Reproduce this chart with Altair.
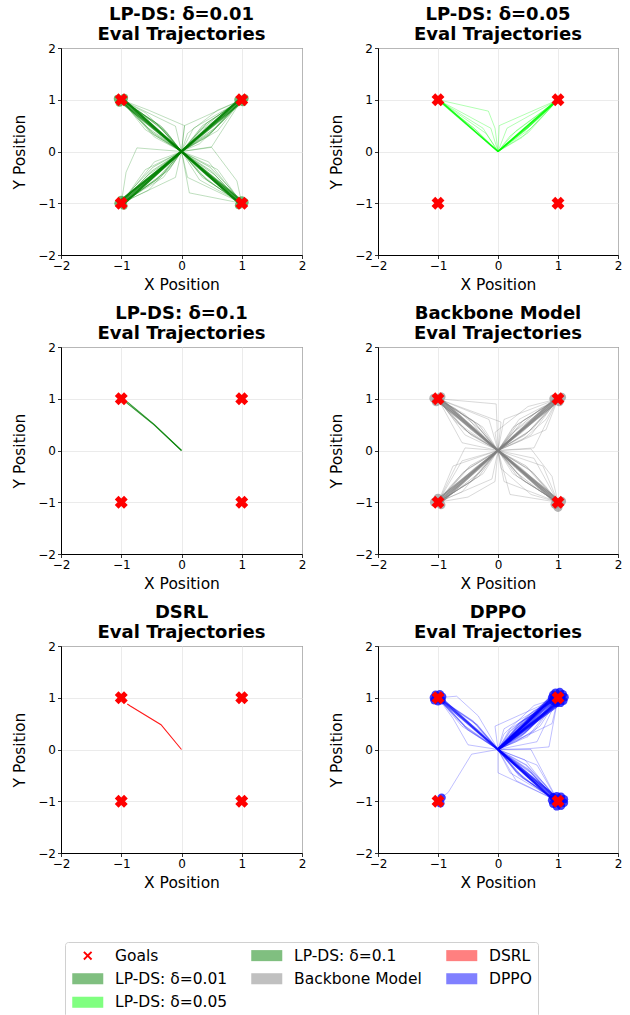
import altair as alt
import pandas as pd

# ---------------- data ----------------
AXIS_TICKS = [-2, -1, 0, 1, 2]
GOALS_X = [-1, 1, -1, 1]
GOALS_Y = [1, 1, -1, -1]

TITLES = [
    ["LP-DS: δ=0.01", "Eval Trajectories"],
    ["LP-DS: δ=0.05", "Eval Trajectories"],
    ["LP-DS: δ=0.1", "Eval Trajectories"],
    ["Backbone Model", "Eval Trajectories"],
    ["DSRL", "Eval Trajectories"],
    ["DPPO", "Eval Trajectories"],
]

# ---- LP-DS delta=0.01 : dense paths to all four goals
LPDS001_MAIN = [
    [[0, 0], [-1, 1]], [[0, 0], [-0.97, 1.02]], [[0, 0], [-1.02, 0.97]], [[0, 0], [-0.95, 0.99]],
    [[0, 0], [1, 1]], [[0, 0], [0.97, 1.02]], [[0, 0], [1.02, 0.97]], [[0, 0], [0.95, 0.99]],
    [[0, 0], [-1, -1]], [[0, 0], [-0.97, -1.03]], [[0, 0], [-1.03, -0.97]], [[0, 0], [-0.95, -1.0]],
    [[0, 0], [-1.0, -0.94]],
    [[0, 0], [1, -1]], [[0, 0], [0.97, -1.02]], [[0, 0], [1.02, -0.97]], [[0, 0], [0.95, -0.99]],
]
LPDS001_FAN = [
    [[0, 0], [-0.42, 0.55], [-1, 1]], [[0, 0], [-0.55, 0.45], [-1, 1]], [[0, 0], [-0.35, 0.5], [-1, 1]],
    [[0, 0], [-0.5, 0.38], [-1, 1]], [[0, 0], [-0.3, 0.4], [-0.7, 0.78], [-1, 1]],
    [[0, 0], [-0.45, 0.32], [-0.8, 0.72], [-1, 1]],
    [[0, 0], [0.42, 0.55], [1, 1]], [[0, 0], [0.55, 0.45], [1, 1]], [[0, 0], [0.35, 0.5], [1, 1]],
    [[0, 0], [0.5, 0.38], [1, 1]], [[0, 0], [0.3, 0.4], [0.7, 0.78], [1, 1]],
    [[0, 0], [0.45, 0.32], [0.8, 0.72], [1, 1]],
    [[0, 0], [-0.42, -0.55], [-1, -1]], [[0, 0], [-0.55, -0.45], [-1, -1]], [[0, 0], [-0.35, -0.5], [-1, -1]],
    [[0, 0], [-0.5, -0.38], [-1, -1]], [[0, 0], [-0.3, -0.42], [-0.72, -0.8], [-1, -1]],
    [[0, 0], [-0.47, -0.3], [-0.8, -0.7], [-1, -1]],
    [[0, 0], [0.42, -0.55], [1, -1]], [[0, 0], [0.55, -0.45], [1, -1]], [[0, 0], [0.35, -0.5], [1, -1]],
    [[0, 0], [0.5, -0.38], [1, -1]], [[0, 0], [0.3, -0.42], [0.72, -0.8], [1, -1]],
    [[0, 0], [0.47, -0.3], [0.8, -0.7], [1, -1]],
]
LPDS001_STRAY = [
    [[0, 0], [-0.1, 0.49], [-1, 1]], [[0, 0], [0.05, 0.5], [-0.55, 0.8], [-1, 1]], [[0, 0], [-0.3, 0.45], [-1, 1]],
    [[0, 0], [-0.45, 0.28], [-1, 1]], [[0, 0], [-0.2, 0.3], [-0.6, 0.75], [-1, 1]], [[0, 0], [-0.38, 0.5], [-1, 1]],
    [[0, 0], [-0.6, 0.42], [-1, 1]], [[0, 0], [-0.25, 0.38], [-1, 1]],
    [[0, 0], [0.5, 0.09], [1, 1]], [[0, 0], [0.05, 0.5], [1, 1]], [[0, 0], [0.3, 0.15], [0.7, 0.6], [1, 1]],
    [[0, 0], [0.2, 0.45], [1, 1]], [[0, 0], [0.45, 0.3], [1, 1]], [[0, 0], [0.1, 0.35], [0.6, 0.8], [1, 1]],
    [[0, 0], [0.35, 0.42], [1, 1]], [[0, 0], [0.6, 0.4], [1, 1]],
    [[0, 0], [-0.74, 0.07], [-0.92, -0.4], [-1, -1]], [[0, 0], [-0.1, -0.5], [-1, -1]], [[0, 0], [-0.45, -0.2], [-1, -1]],
    [[0, 0], [-0.3, -0.5], [-1, -1]], [[0, 0], [-0.6, -0.35], [-1, -1]], [[0, 0], [-0.2, -0.35], [-1, -1]],
    [[0, 0], [-0.4, -0.38], [-1, -1]], [[0, 0], [-0.15, -0.25], [-0.55, -0.75], [-1, -1]],
    [[0, 0], [0.13, -0.8], [1, -1]], [[0, 0], [0.5, 0.08], [0.92, -0.57], [1, -1]], [[0, 0], [0.1, -0.5], [1, -1]],
    [[0, 0], [0.45, -0.2], [1, -1]], [[0, 0], [0.3, -0.55], [1, -1]], [[0, 0], [0.6, -0.35], [1, -1]],
    [[0, 0], [0.25, -0.3], [1, -1]], [[0, 0], [0.4, -0.45], [1, -1]],
]
LPDS001_ENDS = [
    [-1.06, 1.02], [-0.95, 1.04], [-1.03, 0.94], [0.94, 1.0], [1.05, 1.03], [1.02, 0.95],
    [-1.05, -1.0], [-0.96, -1.05], [-1.0, -0.93], [0.95, -1.04], [1.05, -0.98], [1.0, -0.94],
]

# ---- LP-DS delta=0.05 : only the two upper goals
LPDS005_MAIN = [
    [[0, 0], [-1, 1]], [[0, 0], [-0.98, 1.0]],
    [[0, 0], [1, 1]], [[0, 0], [0.98, 1.0]], [[0, 0], [0.5, 0.47], [1, 1]],
]
LPDS005_STRAY = [
    [[0, 0], [-0.05, 0.45], [-0.16, 0.78], [-1, 1]], [[0, 0], [-0.12, 0.45], [-1, 1]], [[0, 0], [-0.25, 0.45], [-1, 1]],
    [[0, 0], [-0.35, 0.4], [-1, 1]], [[0, 0], [-0.2, 0.35], [-1, 1]], [[0, 0], [-0.42, 0.47], [-1, 1]],
    [[0, 0], [0.02, 0.5], [1, 1]], [[0, 0], [0.5, 0.36], [1, 1]], [[0, 0], [0.3, 0.4], [1, 1]],
    [[0, 0], [0.15, 0.45], [1, 1]], [[0, 0], [0.4, 0.27], [1, 1]], [[0, 0], [0.55, 0.45], [1, 1]],
    [[0, 0], [0.2, 0.3], [1, 1]], [[0, 0], [0.45, 0.4], [1, 1]],
]

# ---- LP-DS delta=0.1 : one path to the upper-left goal
LPDS01_MAIN = [
    [[0, 0], [-0.45, 0.5], [-0.9, 0.94]], [[0, 0], [-0.46, 0.5], [-0.92, 0.93]],
]

# ---- Backbone model : spread paths to all four goals
BACKBONE_MAIN = [
    [[0, 0], [-1, 1]], [[0, 0], [-0.97, 1.02]], [[0, 0], [-1.02, 0.97]],
    [[0, 0], [1, 1]], [[0, 0], [0.97, 1.02]], [[0, 0], [1.02, 0.97]],
    [[0, 0], [-1, -1]], [[0, 0], [-0.97, -1.03]], [[0, 0], [-1.03, -0.97]],
    [[0, 0], [1, -1]], [[0, 0], [0.97, -1.02]], [[0, 0], [1.02, -0.97]],
]
BACKBONE_FAN = [
    [[0, 0], [-0.42, 0.58], [-1, 1]], [[0, 0], [-0.58, 0.42], [-1, 1]], [[0, 0], [-0.32, 0.5], [-1, 1]],
    [[0, 0], [-0.5, 0.35], [-1, 1]], [[0, 0], [-0.3, 0.4], [-0.7, 0.8], [-1, 1]],
    [[0, 0], [-0.45, 0.3], [-0.8, 0.7], [-1, 1]],
    [[0, 0], [0.42, 0.58], [1, 1]], [[0, 0], [0.58, 0.42], [1, 1]], [[0, 0], [0.32, 0.5], [1, 1]],
    [[0, 0], [0.5, 0.35], [1, 1]], [[0, 0], [0.3, 0.4], [0.7, 0.8], [1, 1]],
    [[0, 0], [0.45, 0.3], [0.8, 0.7], [1, 1]],
    [[0, 0], [-0.42, -0.58], [-1, -1]], [[0, 0], [-0.58, -0.42], [-1, -1]], [[0, 0], [-0.32, -0.5], [-1, -1]],
    [[0, 0], [-0.5, -0.35], [-1, -1]], [[0, 0], [-0.3, -0.42], [-0.72, -0.8], [-1, -1]],
    [[0, 0], [-0.47, -0.3], [-0.8, -0.7], [-1, -1]],
    [[0, 0], [0.42, -0.58], [1, -1]], [[0, 0], [0.58, -0.42], [1, -1]], [[0, 0], [0.32, -0.5], [1, -1]],
    [[0, 0], [0.5, -0.35], [1, -1]], [[0, 0], [0.3, -0.42], [0.72, -0.8], [1, -1]],
    [[0, 0], [0.47, -0.3], [0.8, -0.7], [1, -1]],
]
BACKBONE_STRAY = [
    [[0, 0], [-0.15, 0.6], [-1, 1]], [[0, 0], [-0.3, 0.35], [-1, 1]], [[0, 0], [-0.55, 0.3], [-1, 1]],
    [[0, 0], [-0.4, 0.55], [-1, 1]], [[0, 0], [-0.7, 0.55], [-1, 1]], [[0, 0], [-0.2, 0.2], [-0.55, 0.7], [-1, 1]],
    [[0, 0], [-0.03, 0.9], [-1, 1]], [[0, 0], [-0.25, 0.45], [-1, 1]], [[0, 0], [-0.45, 0.4], [-1, 1]],
    [[0, 0], [-0.6, 0.15], [-1, 1]], [[0, 0], [0.05, 0.55], [-1, 1]],
    [[0, 0], [0.1, 0.6], [1, 1]], [[0, 0], [0.25, 0.45], [1, 1]], [[0, 0], [0.55, 0.3], [1, 1]],
    [[0, 0], [0.6, 0.05], [1, 1]], [[0, 0], [0.4, 0.2], [0.8, 0.6], [1, 1]], [[0, 0], [0.35, 0.6], [1, 1]],
    [[0, 0], [0.8, 0.4], [1, 1]], [[0, 0], [0.4, 0.35], [1, 1]], [[0, 0], [0.2, 0.3], [1, 1]],
    [[0, 0], [-0.05, 0.35], [0.5, 0.85], [1, 1]],
    [[0, 0], [-0.1, -0.55], [-1, -1]], [[0, 0], [-0.3, -0.35], [-1, -1]], [[0, 0], [-0.6, -0.2], [-1, -1]],
    [[0, 0], [-0.45, -0.6], [-1, -1]], [[0, 0], [-0.75, -0.3], [-1, -1]], [[0, 0], [-0.2, -0.25], [-0.6, -0.8], [-1, -1]],
    [[0, 0], [-0.55, 0.05], [-1, -1]], [[0, 0], [-0.4, -0.35], [-1, -1]], [[0, 0], [-0.25, -0.45], [-1, -1]],
    [[0, 0], [-0.05, -0.6], [-0.5, -0.9], [-1, -1]],
    [[0, 0], [0.1, -0.6], [1, -1]], [[0, 0], [0.3, -0.35], [1, -1]], [[0, 0], [0.6, -0.15], [1, -1]],
    [[0, 0], [0.45, -0.6], [1, -1]], [[0, 0], [0.75, -0.3], [1, -1]], [[0, 0], [0.2, -0.85], [1, -1]],
    [[0, 0], [0.55, 0.03], [0.9, -0.5], [1, -1]], [[0, 0], [0.4, -0.35], [1, -1]], [[0, 0], [0.25, -0.45], [1, -1]],
    [[0, 0], [0.05, -0.35], [0.55, -0.85], [1, -1]],
]
BACKBONE_ENDS = [
    [-1.07, 1.01], [-0.95, 1.04], [-1.03, 0.94], [0.93, 1.0], [1.06, 1.03], [1.02, 0.94],
    [-1.06, -1.0], [-0.95, -1.05], [-1.0, -0.92], [0.95, -1.04], [1.06, -0.98], [1.0, -1.1],
]

# ---- DSRL : one path to the upper-left goal
DSRL_MAIN = [
    [[0, 0], [-0.34, 0.48], [-0.85, 0.84], [-0.9, 0.88]],
]

# ---- DPPO : mostly right-hand goals
DPPO_MAIN = [
    [[0, 0], [1, 1]], [[0, 0], [0.96, 1.04]], [[0, 0], [1.04, 0.96]], [[0, 0], [0.93, 1.03]],
    [[0, 0], [1.04, 0.92]], [[0, 0], [0.5, 0.53], [0.95, 1.06]], [[0, 0], [0.53, 0.48], [1.07, 0.97]],
    [[0, 0], [0.46, 0.5], [0.98, 1.02]], [[0, 0], [0.9, 1.04]], [[0, 0], [1.06, 0.9]],
    [[0, 0], [1, -1]], [[0, 0], [0.97, -1.03]], [[0, 0], [1.03, -0.97]], [[0, 0], [0.95, -1.0]],
    [[0, 0], [-1, 1]], [[0, 0], [-0.97, 1.02]],
]
DPPO_FAN = [
    [[0, 0], [0.42, 0.55], [1, 1]], [[0, 0], [0.55, 0.45], [1, 1]], [[0, 0], [0.35, 0.5], [1, 1]],
    [[0, 0], [0.5, 0.38], [1, 1]], [[0, 0], [0.3, 0.4], [0.7, 0.78], [1, 1]],
    [[0, 0], [0.45, 0.32], [0.8, 0.72], [1, 1]], [[0, 0], [0.2, 0.35], [0.6, 0.75], [1, 1]],
    [[0, 0], [0.38, 0.25], [0.75, 0.65], [1, 1]],
    [[0, 0], [0.42, -0.55], [1, -1]], [[0, 0], [0.55, -0.45], [1, -1]], [[0, 0], [0.35, -0.5], [1, -1]],
    [[0, 0], [0.5, -0.38], [1, -1]], [[0, 0], [0.3, -0.42], [0.72, -0.8], [1, -1]],
    [[0, 0], [0.47, -0.3], [0.8, -0.7], [1, -1]],
    [[0, 0], [-0.42, 0.55], [-1, 1]], [[0, 0], [-0.55, 0.45], [-1, 1]], [[0, 0], [-0.35, 0.48], [-1, 1]],
    [[0, 0], [-0.5, 0.38], [-1, 1]],
]
DPPO_STRAY = [
    [[0, 0], [0.55, 0.02], [0.85, 0.05], [1, 1]], [[0, 0], [-0.05, 0.45], [1, 1]], [[0, 0], [0.2, 0.4], [1, 1]],
    [[0, 0], [0.5, 0.25], [1, 1]], [[0, 0], [0.9, 0.5], [1, 1]], [[0, 0], [0.3, 0.15], [0.7, 0.45], [1, 1]],
    [[0, 0], [0.1, 0.3], [0.6, 0.85], [1, 1]], [[0, 0], [0.65, 0.15], [1, 1]], [[0, 0], [0.1, 0.4], [1, 1]],
    [[0, 0], [0.6, 0.35], [1, 1]],
    [[0, 0], [0.55, 0.0], [1, -1]], [[0, 0], [0.0, -0.45], [1, -1]], [[0, 0], [0.2, -0.45], [1, -1]],
    [[0, 0], [0.45, -0.2], [1, -1]], [[0, 0], [0.3, -0.6], [1, -1]], [[0, 0], [0.65, -0.3], [1, -1]],
    [[0, 0], [0.35, -0.3], [1, -1]],
    [[0, 0], [-0.5, 0.09], [-0.75, 0.6], [-1, 1]], [[0, 0], [-0.33, 0.65], [-0.69, 1.03], [-1, 1]],
    [[0, 0], [-0.3, 0.35], [-1, 1]], [[0, 0], [-0.6, 0.45], [-1, 1]],
    [[0, 0], [-0.44, -0.09], [-0.83, -0.83], [-0.97, -0.95]],
]
DPPO_ENDS = [
    [0.9, 1.0], [0.92, 1.06], [0.96, 1.1], [1.03, 1.11], [1.08, 1.07], [1.11, 1.01], [1.09, 0.94],
    [1.04, 0.9], [0.97, 0.9], [0.92, 0.94], [1.0, 1.0], [1.05, 1.0], [0.96, 1.03], [1.02, 0.96],
    [0.9, -0.98], [0.92, -0.92], [0.98, -0.9], [1.05, -0.91], [1.1, -0.96], [1.1, -1.03], [1.05, -1.09],
    [0.98, -1.1], [0.92, -1.05], [1.0, -1.0], [1.04, -0.98], [0.97, -1.03],
    [-1.07, 1.0], [-1.04, 1.06], [-0.97, 1.07], [-0.93, 1.02], [-0.94, 0.95], [-1.0, 0.93], [-1.06, 0.95],
    [-1.0, 1.0],
    [-0.94, -0.93], [-0.96, -1.04],
]

# ---- legend (row-major order reproducing matplotlib's 3-column layout)
LEGEND_LABELS = ["Goals", "LP-DS: δ=0.1", "DSRL", "LP-DS: δ=0.01", "Backbone Model", "DPPO", "LP-DS: δ=0.05"]
LEGEND_COLORS = ["#ff0000", "#80bf80", "#ff8080", "#80bf80", "#c0c0c0", "#8080ff", "#80ff80"]
RECT_PATH = "M-1,-0.92L4.17,-0.92L4.17,0.92L-1,0.92Z"
X_PATH = ("M-1,0M4.17,0M1.58,0.22L2.11,0.75L2.33,0.53L1.8,0L2.33,-0.53L2.11,-0.75L1.58,-0.22"
          "L1.05,-0.75L0.83,-0.53L1.36,0L0.83,0.53L1.05,0.75Z")
LEGEND_SHAPES = [X_PATH, RECT_PATH, RECT_PATH, RECT_PATH, RECT_PATH, RECT_PATH, RECT_PATH]


# ---------------- helpers ----------------
def traj_df(trajs):
    rows = []
    for i, t in enumerate(trajs):
        for j, (x, y) in enumerate(t):
            rows.append({"traj": i, "step": j, "x": x, "y": y})
    return pd.DataFrame(rows)


def pts_df(pts):
    return pd.DataFrame({"x": [p[0] for p in pts], "y": [p[1] for p in pts]})


X_ENC = alt.X("x:Q", scale=alt.Scale(domain=[-2, 2], nice=False, zero=False),
              axis=alt.Axis(values=AXIS_TICKS, title="X Position"))
Y_ENC = alt.Y("y:Q", scale=alt.Scale(domain=[-2, 2], nice=False, zero=False),
              axis=alt.Axis(values=AXIS_TICKS, title="Y Position"))


def lines(trajs, color, opacity, width):
    return alt.Chart(traj_df(trajs)).mark_line(
        color=color, opacity=opacity, strokeWidth=width, clip=True
    ).encode(x=X_ENC, y=Y_ENC, detail="traj:N", order="step:Q")


def ends(pts, color, opacity, size):
    return alt.Chart(pts_df(pts)).mark_circle(
        color=color, opacity=opacity, size=size, clip=True
    ).encode(x=X_ENC, y=Y_ENC)


def goals():
    return alt.Chart(pd.DataFrame({"x": GOALS_X, "y": GOALS_Y})).mark_point(
        shape="cross", angle=45, filled=True, size=170, color="#ff0000", opacity=1, strokeWidth=0
    ).encode(x=X_ENC, y=Y_ENC)


def legend_layer():
    leg = alt.Legend(
        title=None, orient="none", legendX=4, legendY=296, direction="horizontal", columns=3,
        columnPadding=22, rowPadding=6.5, labelFontSize=15.5, labelFont="DejaVu Sans", labelColor="black",
        labelOffset=29, symbolSize=144, symbolStrokeWidth=0, symbolOpacity=1,
        strokeColor="#d0d0d0", fillColor="white", padding=5.5, cornerRadius=3, labelLimit=300,
    )
    return alt.Chart(pd.DataFrame({"series": LEGEND_LABELS})).mark_point(
        filled=True, clip=True, opacity=1
    ).encode(
        x=alt.value(-100), y=alt.value(-100),
        color=alt.Color("series:N", scale=alt.Scale(domain=LEGEND_LABELS, range=LEGEND_COLORS), legend=leg),
        shape=alt.Shape("series:N", scale=alt.Scale(domain=LEGEND_LABELS, range=LEGEND_SHAPES), legend=leg),
    )


def title(idx):
    return alt.TitleParams(text=TITLES[idx], fontSize=18, fontWeight="bold", font="DejaVu Sans",
                           lineHeight=20, offset=-2, anchor="middle", color="black")


def panel(idx, layers, w=241, h=207):
    return alt.layer(*layers, goals()).properties(width=w, height=h, title=title(idx))


GREEN = "#008000"
LIME = "#00ff00"
GRAY = "#808080"
RED = "#ff0000"
BLUE = "#0000ff"

p1 = panel(0, [ends(LPDS001_ENDS, GREEN, 0.55, 60), lines(LPDS001_STRAY, GREEN, 0.25, 1),
               lines(LPDS001_FAN, GREEN, 0.35, 1), lines(LPDS001_MAIN, GREEN, 0.7, 2)])
p2 = panel(1, [lines(LPDS005_STRAY, LIME, 0.3, 1), lines(LPDS005_MAIN, LIME, 0.75, 1.4)], w=240)
p3 = panel(2, [lines(LPDS01_MAIN, GREEN, 0.8, 1.1)])
p4 = panel(3, [ends(BACKBONE_ENDS, GRAY, 0.6, 80), lines(BACKBONE_STRAY, GRAY, 0.3, 1),
               lines(BACKBONE_FAN, GRAY, 0.4, 1), lines(BACKBONE_MAIN, GRAY, 0.75, 2)], w=240)
p5 = alt.layer(lines(DSRL_MAIN, RED, 0.9, 1.1), legend_layer(), goals()).properties(
    width=241, height=207, title=title(4))
p6 = panel(5, [ends(DPPO_ENDS, BLUE, 0.75, 70), lines(DPPO_STRAY, BLUE, 0.25, 1),
               lines(DPPO_FAN, BLUE, 0.35, 1.2), lines(DPPO_MAIN, BLUE, 0.65, 2)], w=240)

chart = alt.concat(
    p1, p2, p3, p4, p5, p6, columns=2, spacing={"row": 92, "column": 76}, bounds="flush"
).resolve_scale(color="independent", shape="independent").properties(
    padding={"left": 12, "top": 5, "right": 5, "bottom": 0}
).configure_view(
    stroke="black", strokeWidth=1
).configure_axis(
    grid=True, gridColor="#e6e6e6", gridWidth=0.8, domainColor="black", domainWidth=1,
    tickColor="black", tickSize=3.5, tickWidth=0.8, labelFontSize=12, labelFont="DejaVu Sans",
    labelColor="black", labelPadding=2, titleFontSize=15.5, titleFont="DejaVu Sans",
    titleFontWeight="normal", titleColor="black", labelFlush=False,
).configure_axisY(titlePadding=10).configure_axisX(titlePadding=6)

chart.save("out.html", embed_options={"renderer": "svg", "actions": False})
